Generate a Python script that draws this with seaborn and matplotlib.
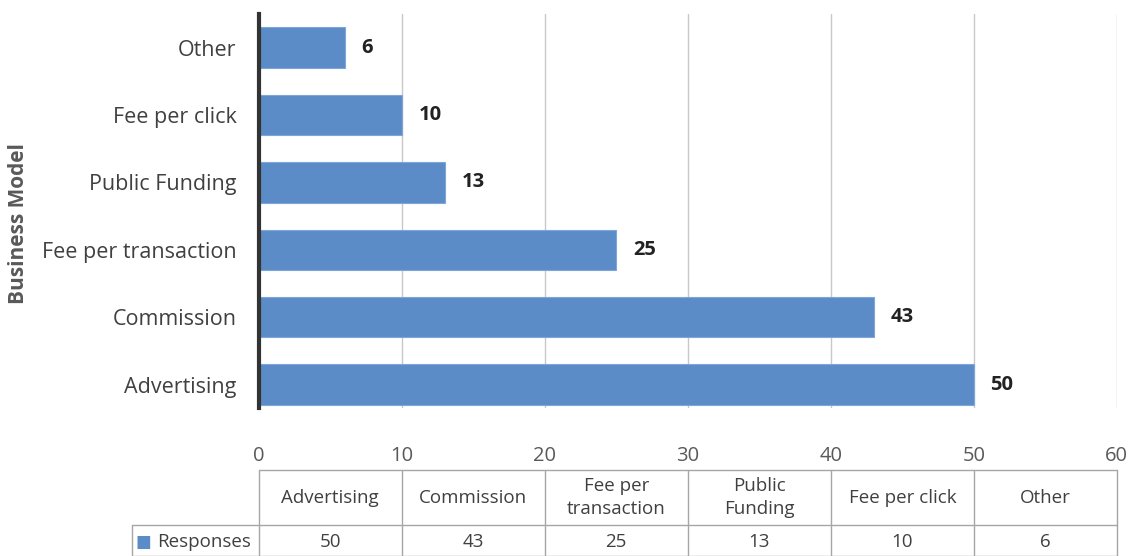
import numpy as np
import pandas as pd
import matplotlib
matplotlib.use("Agg")
import matplotlib.pyplot as plt
import matplotlib.transforms as mtransforms
import seaborn as sns

# data (order as in the table below the chart)
categories = ["Advertising", "Commission", "Fee per transaction",
              "Public Funding", "Fee per click", "Other"]
table_headers = ["Advertising", "Commission", "Fee per\ntransaction",
                 "Public\nFunding", "Fee per click", "Other"]
responses = [50, 43, 25, 13, 10, 6]
series_name = "Responses"
x_ticks = [0, 10, 20, 30, 40, 50, 60]

BAR_COLOR = "#5B8CC8"
TEXT_GRAY = "#595959"
LINE_GRAY = "#A6A6A6"

sns.set_theme(style="white")
plt.rcParams["font.family"] = ["Open Sans", "DejaVu Sans"]

df = pd.DataFrame({"model": categories, "responses": responses})
order = categories[::-1]

fig = plt.figure(figsize=(11.35, 5.56), dpi=100)
ax = fig.add_axes([0.228, 0.266, 0.756, 0.709])

sns.barplot(data=df, y="model", x="responses", order=order, orient="h",
            color=BAR_COLOR, saturation=1, width=0.6,
            edgecolor="#7FA6D6", linewidth=0.8, ax=ax)

for c in ax.containers:
    ax.bar_label(c, padding=12, fontsize=14.5, fontweight="bold", color="#222222")

ax.set_xlim(0, 60)
ax.set_ylim(5.35, -0.5)
ax.set_xticks(x_ticks)
ax.xaxis.grid(True, color="#C8C8C8", linewidth=1)
ax.set_axisbelow(True)
ax.tick_params(axis="x", labelsize=14.5, colors=TEXT_GRAY, pad=27, length=0)
ax.tick_params(axis="y", labelsize=15.5, colors="#404040", pad=16, length=0)
ax.set_xlabel("")
ax.set_ylabel("Business Model", fontsize=15, fontweight="bold", color=TEXT_GRAY)
ax.yaxis.set_label_coords(-0.268, 0.467)

for s in ["top", "right", "bottom"]:
    ax.spines[s].set_visible(False)
ax.spines["left"].set_color("#333333")
ax.spines["left"].set_linewidth(3)

# data table under the chart: columns line up with the 10-unit x intervals
trans = mtransforms.blended_transform_factory(ax.transData, ax.transAxes)
col_w = 10
n = len(categories)
x_right = n * col_w
x_label = -8.9
y_top, y_mid, y_bot = -0.157, -0.297, -0.376
y_head, y_row = -0.227, -0.340

line_kw = dict(color=LINE_GRAY, linewidth=1, transform=trans, clip_on=False)
ax.plot([0, x_right], [y_top, y_top], **line_kw)
ax.plot([x_label, x_right], [y_mid, y_mid], **line_kw)
ax.plot([x_label, x_right], [y_bot, y_bot], **line_kw)
ax.plot([x_label, x_label], [y_mid, y_bot], **line_kw)
for i in range(n + 1):
    ax.plot([i * col_w, i * col_w], [y_top, y_bot], **line_kw)

for i, (head, val) in enumerate(zip(table_headers, responses)):
    xc = i * col_w + col_w / 2
    ax.text(xc, y_head, head, transform=trans, ha="center", va="center",
            fontsize=13.5, color="#404040", linespacing=1.4, clip_on=False)
    ax.text(xc, y_row, str(val), transform=trans, ha="center", va="center",
            fontsize=13.5, color="#404040", clip_on=False)

ax.text(-8.05, y_row, "■", transform=trans, ha="center", va="center",
        fontsize=12, color=BAR_COLOR, family=["DejaVu Sans"], clip_on=False)
ax.text(-7.1, y_row, series_name, transform=trans, ha="left", va="center",
        fontsize=13.5, color="#404040", clip_on=False)

fig.savefig("out.png", dpi=100)
